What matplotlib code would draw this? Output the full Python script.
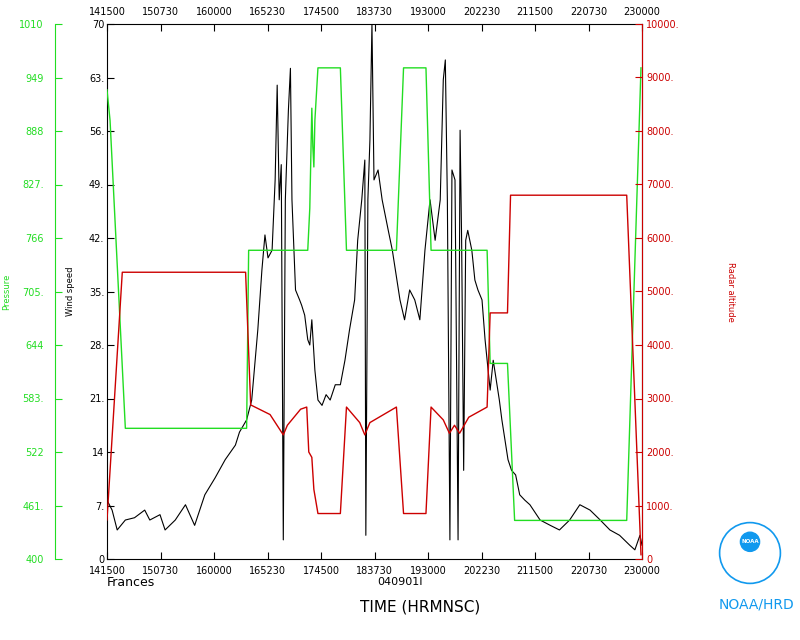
import numpy as np
import matplotlib
matplotlib.use("Agg")
import matplotlib.pyplot as plt
from matplotlib.patches import Circle

# time axis in minutes after 14:15:00
xtick_labels = ["141500", "150730", "160000", "165230", "174500", "183730",
                "193000", "202230", "211500", "220730", "230000"]
wind_labels = ["0", "7.", "14", "21.", "28.", "35.", "42.", "49.", "56.", "63.", "70"]
pres_labels = ["400", "461.", "522", "583.", "644", "705.", "766", "827.", "888", "949", "1010"]
alt_labels = ["0", "1000.", "2000.", "3000.", "4000.", "5000.", "6000.", "7000.", "8000.", "9000.", "10000."]

wind_t = [0, 5, 10, 18, 27, 37, 42, 52, 57, 67, 77, 86, 96, 106, 116, 126, 130, 137, 142,
          148, 152, 155, 158, 162, 165, 167, 169, 171, 173, 175, 178, 180, 181.5, 185, 189,
          191, 194, 197, 199, 201, 204, 207, 211, 215, 219, 224, 229, 233.5, 238, 243, 246,
          250, 253, 254, 256, 258, 260, 262, 266, 270, 276, 280, 283, 287.5, 292, 297, 302,
          307, 312, 317, 322, 327, 330, 332, 334, 336.5, 338.5, 341.5, 344.5, 346.5, 348,
          350, 352, 354, 358, 361, 364, 368, 371, 374, 376, 379, 382, 385, 387.5, 390.5,
          393.5, 397, 401, 405, 410, 415, 425, 435, 444, 454, 464, 474, 484, 493.5, 503,
          513, 518, 523, 525]
wind_v = [7.7, 6.4, 3.8, 5.1, 5.4, 6.4, 5.1, 5.8, 3.8, 5.1, 7.1, 4.4, 8.4, 10.6, 13.0, 14.9,
          16.6, 18.2, 20.8, 30.0, 37.8, 42.4, 39.4, 40.4, 49.6, 62.0, 47.0, 51.6, 2.5, 47.0,
          58.7, 64.2, 47.0, 35.2, 33.9, 33.2, 31.9, 28.7, 28.0, 31.3, 24.7, 20.8, 20.1, 21.5,
          20.8, 22.8, 22.8, 26.0, 30.0, 33.9, 41.7, 47.0, 52.2, 3.1, 47.0, 54.8, 70.0, 49.6,
          50.9, 47.0, 43.0, 40.4, 37.8, 33.9, 31.3, 35.2, 33.9, 31.3, 40.4, 47.0, 41.7, 47.0,
          62.7, 65.3, 47.0, 2.5, 50.9, 49.6, 2.5, 56.1, 41.7, 11.6, 41.7, 43.0, 40.4, 36.5,
          35.2, 33.9, 28.7, 24.7, 22.1, 26.0, 23.4, 20.8, 18.2, 15.6, 13.0, 11.6, 11.0, 8.4,
          7.7, 7.1, 5.1, 4.4, 3.8, 5.1, 7.1, 6.4, 5.1, 3.8, 3.1, 1.8, 1.2, 3.1, 1.8]

pres_t = [0, 3, 18, 137, 139, 197, 199, 201, 202, 203, 204, 207, 229, 235, 284, 291, 313,
          318, 373, 376, 393, 400, 510, 524]
pres_v = [935, 900, 549, 549, 752, 752, 800, 914, 870, 847, 900, 960, 960, 752, 752, 960,
          960, 752, 752, 623, 623, 444, 444, 960]

alt_t = [0, 15, 136, 141, 160, 173, 177, 190, 196, 198, 201, 203, 207, 229, 235, 248, 253,
         258, 284, 291, 313, 318, 330, 336, 341, 346, 355, 373, 376, 393, 396, 510, 524]
alt_v = [730, 5360, 5360, 2880, 2700, 2320, 2500, 2800, 2840, 2000, 1900, 1300, 850, 850,
         2840, 2550, 2320, 2550, 2840, 850, 850, 2840, 2600, 2350, 2500, 2350, 2650, 2840,
         4600, 4600, 6800, 6800, 80]

green = "#22dd22"
red = "#cc0000"
plt.rcParams["font.family"] = "DejaVu Sans"
fs = 7

fig = plt.figure(figsize=(8, 6.4), dpi=100)
ax = fig.add_axes([107 / 800, 1 - 559 / 640, 535 / 800, 535 / 640])
ax.plot(wind_t, wind_v, color="black", lw=0.8)
ax.set_xlim(0, 525)
ax.set_ylim(0, 70)
xt = np.linspace(0, 525, 11)
ax.set_xticks(xt)
ax.set_xticklabels(xtick_labels, fontsize=fs)
ax.set_yticks(np.linspace(0, 70, 11))
ax.set_yticklabels(wind_labels, fontsize=fs)
ax.tick_params(direction="in", length=5, top=True, labeltop=True, pad=2)
ax.tick_params(axis="x", pad=5)
ax.set_ylabel("Wind speed", fontsize=6, labelpad=10)

axp = ax.twinx()
axp.plot(pres_t, pres_v, color=green, lw=1)
axp.set_ylim(400, 1010)
axp.yaxis.set_ticks_position("left")
axp.yaxis.set_label_position("left")
axp.spines["left"].set_position(("axes", -52 / 535))
axp.spines["left"].set_color(green)
axp.set_yticks(np.linspace(400, 1010, 11))
axp.set_yticklabels(pres_labels, fontsize=fs, color=green)
axp.tick_params(axis="y", direction="in", length=5, colors=green, pad=8)
axp.set_ylabel("Pressure", fontsize=6, color=green, labelpad=6)
for s in ["right", "top", "bottom"]:
    axp.spines[s].set_visible(False)

axa = ax.twinx()
axa.plot(alt_t, alt_v, color=red, lw=1)
axa.set_ylim(0, 10000)
axa.set_yticks(np.linspace(0, 10000, 11))
axa.set_yticklabels(alt_labels, fontsize=fs, color=red)
axa.tick_params(axis="y", direction="in", length=5, colors=red, pad=3)
axa.spines["right"].set_color(red)
axa.set_ylabel("Radar altitude", fontsize=6, color=red, rotation=270, labelpad=40)
for s in ["left", "top", "bottom"]:
    axa.spines[s].set_visible(False)

fig.text(107 / 800, 1 - 582 / 640, "Frances", fontsize=9, va="center")
fig.text(400 / 800, 1 - 582 / 640, "040901I", fontsize=8, va="center", ha="center")
fig.text(420 / 800, 1 - 607 / 640, "TIME (HRMNSC)", fontsize=11, va="center", ha="center")

blue = "#1199ee"
fig.text(757 / 800, 1 - 605 / 640, "NOAA/HRD", fontsize=10, va="center", ha="center", color=blue)
lax = fig.add_axes([718 / 800, 1 - 585 / 640, 64 / 800, 64 / 640])
lax.set_xlim(-1, 1)
lax.set_ylim(-1, 1)
lax.set_aspect("equal")
lax.axis("off")
lax.add_patch(Circle((0, 0), 0.95, fill=False, ec=blue, lw=1.2))
lax.add_patch(Circle((0, 0.35), 0.3, fill=True, fc=blue, ec=blue))
lax.text(0, 0.35, "NOAA", fontsize=4, color="white", ha="center", va="center", weight="bold")

fig.savefig("out.png", dpi=100)
